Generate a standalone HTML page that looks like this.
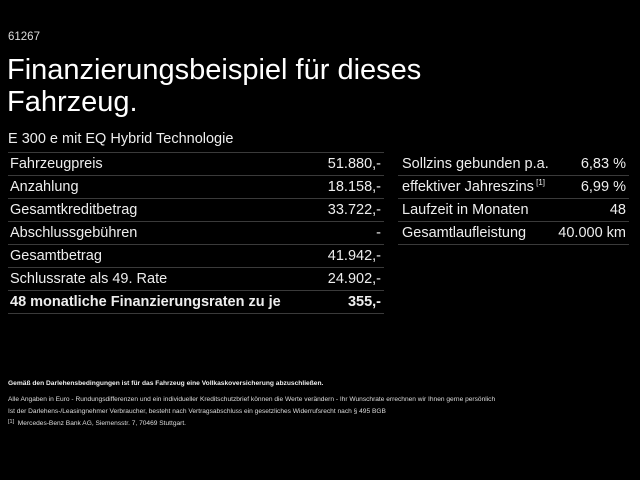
<!DOCTYPE html>
<html><head><meta charset="utf-8"><style>
body{margin:0;width:640px;height:480px;background:#000;color:#fff;font-family:"Liberation Sans",sans-serif;position:relative;overflow:hidden}
.a{position:absolute;white-space:nowrap}
.row{position:absolute;height:23px;line-height:22px;font-size:14.5px;color:#eee;border-bottom:1.5px solid #3a3a3a;box-sizing:border-box}
.row span{position:absolute;right:3px;top:0}
.row b{font-weight:bold}
sup{font-size:8px;line-height:0;position:relative;top:-6px;vertical-align:baseline}
</style></head><body>
<div class="a" style="left:8px;top:31px;font-size:11.5px;color:#ddd">61267</div>
<div class="a" style="left:7px;top:54px;font-size:29px;line-height:32px;color:#fff">Finanzierungsbeispiel für dieses<br>Fahrzeug.</div>
<div class="a" style="left:8px;top:131px;font-size:14.5px;color:#eee">E 300 e mit EQ Hybrid Technologie</div>
<div style="position:absolute;left:8px;top:152px;width:376px;border-top:1.5px solid #3a3a3a"></div>
<div class="row" style="left:8px;width:376px;top:153px;padding-left:2px">Fahrzeugpreis<span>51.880,-</span></div>
<div class="row" style="left:8px;width:376px;top:176px;padding-left:2px">Anzahlung<span>18.158,-</span></div>
<div class="row" style="left:8px;width:376px;top:199px;padding-left:2px">Gesamtkreditbetrag<span>33.722,-</span></div>
<div class="row" style="left:8px;width:376px;top:222px;padding-left:2px">Abschlussgebühren<span>-</span></div>
<div class="row" style="left:8px;width:376px;top:245px;padding-left:2px">Gesamtbetrag<span>41.942,-</span></div>
<div class="row" style="left:8px;width:376px;top:268px;padding-left:2px">Schlussrate als 49. Rate<span>24.902,-</span></div>
<div class="row" style="left:8px;width:376px;top:291px;padding-left:2px"><b>48 monatliche Finanzierungsraten zu je</b><span><b>355,-</b></span></div>
<div class="row" style="left:398px;width:231px;top:153px;padding-left:4px">Sollzins gebunden p.a.<span>6,83 %</span></div>
<div class="row" style="left:398px;width:231px;top:176px;padding-left:4px">effektiver Jahreszins<sup> [1]</sup><span>6,99 %</span></div>
<div class="row" style="left:398px;width:231px;top:199px;padding-left:4px">Laufzeit in Monaten<span>48</span></div>
<div class="row" style="left:398px;width:231px;top:222px;padding-left:4px">Gesamtlaufleistung<span>40.000 km</span></div>
<div class="a" style="left:8px;top:380px;font-size:6.65px;font-weight:bold;color:#eee">Gemäß den Darlehensbedingungen ist für das Fahrzeug eine Vollkaskoversicherung abzuschließen.</div>
<div class="a" style="left:8px;top:394px;font-size:6.6px;line-height:12px;color:#ddd">Alle Angaben in Euro - Rundungsdifferenzen und ein individueller Kreditschutzbrief können die Werte verändern - Ihr Wunschrate errechnen wir Ihnen gerne persönlich<br>Ist der Darlehens-/Leasingnehmer Verbraucher, besteht nach Vertragsabschluss ein gesetzliches Widerrufsrecht nach § 495 BGB</div>
<div class="a" style="left:8px;top:420px;font-size:6.6px;color:#ddd"><span style="font-size:5.5px;position:relative;top:-2px">[1]</span>&nbsp; Mercedes-Benz Bank AG, Siemensstr. 7, 70469 Stuttgart.</div>
</body></html>
